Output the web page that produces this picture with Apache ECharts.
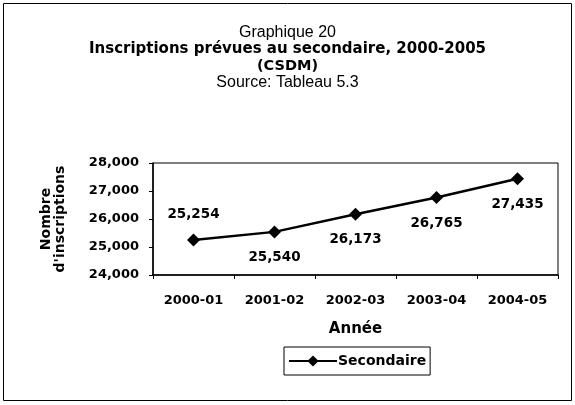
<!DOCTYPE html>
<html><head><meta charset="utf-8">
<script src="https://cdn.jsdelivr.net/npm/echarts@6/dist/echarts.min.js"></script>
<style>html,body{margin:0;padding:0;background:#fff}#c{width:575px;height:405px}</style>
</head><body><div id="c"></div>
<script>
const categories = ['2000-01','2001-02','2002-03','2003-04','2004-05'];
const secondaire = [25254, 25540, 26173, 26765, 27435];
const labelPositions = ['top','bottom','bottom','bottom','bottom'];
const titleLines = ['Graphique 20','Inscriptions prévues au secondaire, 2000-2005','(CSDM)','Source: Tableau 5.3'];
const FL = '"Liberation Sans", Arial, sans-serif';
const FD = '"DejaVu Sans", sans-serif';
const chart = echarts.init(document.getElementById('c'));
const titleTops = [25, 42, 59, 75];
const titleStyles = [
  {fontFamily:FL, fontSize:16, fontWeight:'normal'},
  {fontFamily:FD, fontSize:15, fontWeight:'bold'},
  {fontFamily:FD, fontSize:14.5, fontWeight:'bold'},
  {fontFamily:FL, fontSize:16, fontWeight:'normal'}
];
chart.setOption({
  animation: false,
  backgroundColor: '#fff',
  graphic: [{type:'rect', shape:{x:3.5,y:3.5,width:568,height:397}, style:{fill:'none',stroke:'#000',lineWidth:1}, silent:true}],
  title: titleLines.map((t,i)=>({text:t, left:'center', top:titleTops[i], padding:0,
    textStyle:Object.assign({color:'#000'}, titleStyles[i])})),
  legend: {
    data:['Secondaire'], left:284, top:347, itemWidth:48, itemHeight:14, itemGap:4,
    padding:[7,4,7,4], borderColor:'#000', borderWidth:1,
    textStyle:{fontFamily:FD, fontSize:14, fontWeight:'bold', color:'#000', padding:[0,0,0,-4]}
  },
  grid: {left:153, right:17, top:163, bottom:130, show:true, borderColor:'#000', borderWidth:1},
  xAxis: {
    type:'category', data:categories, boundaryGap:true,
    name:'Année', nameLocation:'middle', nameGap:47,
    nameTextStyle:{fontFamily:FD, fontSize:15, fontWeight:'bold', color:'#000'},
    axisLine:{lineStyle:{color:'#000', width:1.5}},
    axisTick:{show:true, alignWithLabel:false, length:4, inside:false, lineStyle:{color:'#000'}},
    axisLabel:{fontFamily:FD, fontSize:13, fontWeight:'bold', color:'#000', margin:19}
  },
  yAxis: {
    type:'value', min:24000, max:28000, interval:1000,
    name:'Nombre\nd\'inscriptions', nameLocation:'middle', nameGap:86, nameRotate:90,
    nameTextStyle:{fontFamily:FD, fontSize:14, fontWeight:'bold', color:'#000', lineHeight:14},
    axisLine:{show:true, lineStyle:{color:'#000', width:1.5}},
    axisTick:{show:true, length:4, lineStyle:{color:'#000'}},
    splitLine:{show:false},
    axisLabel:{fontFamily:FD, fontSize:13, fontWeight:'bold', color:'#000', margin:14,
      formatter:v=>v.toLocaleString('en-US')}
  },
  series: [{
    name:'Secondaire', type:'line', data:secondaire.map((v,i)=>({value:v, label:{position:labelPositions[i]}})),
    symbol:'diamond', symbolSize:13,
    lineStyle:{color:'#000', width:2.5}, itemStyle:{color:'#000'},
    label:{show:true, distance:12, fontFamily:FD, fontSize:13.5, fontWeight:'bold', color:'#000',
      formatter:p=>p.value.toLocaleString('en-US')}
  }]
});
</script></body></html>
